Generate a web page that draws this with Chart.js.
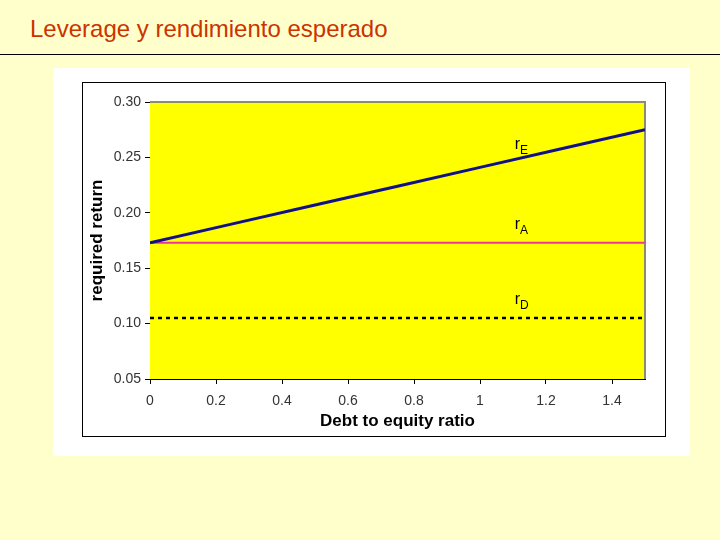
<!DOCTYPE html>
<html>
<head>
<meta charset="utf-8">
<script src="https://cdn.jsdelivr.net/npm/chart.js@4.4.1/dist/chart.umd.min.js"></script>
<style>
  body { margin: 0; width: 720px; height: 540px; background: #FFFFCC; position: relative; overflow: hidden; font-family: "Liberation Sans", Arial, sans-serif; }
  #titulo { position: absolute; left: 30px; top: 15px; font-size: 24px; color: #CC3300; }
  #linea { position: absolute; left: 0; top: 54px; width: 720px; height: 1px; background: #000; }
  #fondo { position: absolute; left: 53px; top: 68px; width: 637px; height: 388px; background: #fff; }
  #marco { position: absolute; left: 82px; top: 82px; width: 582px; height: 353px; border: 1px solid #000; background: #fff; }
  #marco canvas { position: absolute; left: 0; top: 0; }
</style>
</head>
<body>
<div id="titulo">Leverage y rendimiento esperado</div>
<div id="linea"></div>
<div id="fondo"></div>
<div id="marco"><canvas id="grafico" width="582" height="353"></canvas></div>
<script>
// Datos
const deudaCapital = [0, 0.25, 0.5, 0.75, 1.0, 1.25, 1.5];
const rE = [0.173, 0.190, 0.207, 0.224, 0.241, 0.258, 0.275];
const rA = [0.173, 0.173, 0.173, 0.173, 0.173, 0.173, 0.173];
const rD = [0.105, 0.105, 0.105, 0.105, 0.105, 0.105, 0.105];
const etiquetas = [
  { base: "r", sub: "E", x: 1.105, y: 0.258 },
  { base: "r", sub: "A", x: 1.105, y: 0.185 },
  { base: "r", sub: "D", x: 1.105, y: 0.118 }
];

const puntos = (ys) => deudaCapital.map((x, i) => ({ x: x, y: ys[i] }));
const fuente = '"Liberation Sans", Arial, sans-serif';

const fondoAmarillo = {
  id: 'fondoAmarillo',
  beforeDatasetsDraw: (chart) => {
    const { ctx, chartArea: a } = chart;
    ctx.save();
    ctx.fillStyle = '#FFFF00';
    ctx.fillRect(a.left, a.top, a.right - a.left, a.bottom - a.top);
    ctx.strokeStyle = '#8C8C6A';
    ctx.lineWidth = 2;
    ctx.beginPath();
    ctx.moveTo(a.left, a.top);
    ctx.lineTo(a.right, a.top);
    ctx.lineTo(a.right, a.bottom);
    ctx.stroke();
    ctx.restore();
  },
  afterDatasetsDraw: (chart) => {
    const { ctx, scales } = chart;
    ctx.save();
    ctx.fillStyle = '#000';
    etiquetas.forEach((e) => {
      const px = scales.x.getPixelForValue(e.x);
      const py = scales.y.getPixelForValue(e.y);
      ctx.font = '16px ' + fuente;
      ctx.textBaseline = 'alphabetic';
      ctx.fillText(e.base, px, py);
      const w = ctx.measureText(e.base).width;
      ctx.font = '12px ' + fuente;
      ctx.fillText(e.sub, px + w, py + 5);
    });
    ctx.restore();
  }
};

new Chart(document.getElementById('grafico'), {
  type: 'line',
  data: {
    datasets: [
      { label: 'rE', data: puntos(rE), borderColor: '#101088', borderWidth: 3, pointRadius: 0 },
      { label: 'rA', data: puntos(rA), borderColor: '#E8389A', borderWidth: 2, pointRadius: 0 },
      { label: 'rD', data: puntos(rD), borderColor: '#000', borderWidth: 2.5, borderDash: [4, 4], pointRadius: 0 }
    ]
  },
  options: {
    responsive: false,
    animation: false,
    layout: { padding: { top: 19, right: 20, left: 0, bottom: 0 } },
    plugins: { legend: false, tooltip: false },
    scales: {
      x: {
        type: 'linear',
        min: 0,
        max: 1.5,
        afterFit: (s) => { s.height = 57; },
        border: { color: '#000', width: 1 },
        grid: { drawOnChartArea: false, color: '#000', tickLength: 5 },
        ticks: { stepSize: 0.2, includeBounds: false, color: '#333', padding: 9,
                 callback: (v) => String(Math.round(v * 10) / 10),
                 font: { family: fuente, size: 14 } },
        title: { display: true, text: 'Debt to equity ratio', color: '#000', padding: { top: 0 },
                 font: { family: fuente, size: 17, weight: 'bold' } }
      },
      y: {
        min: 0.05,
        max: 0.30,
        afterFit: (s) => { s.width = 67; },
        border: { color: '#000', width: 1 },
        grid: { drawOnChartArea: false, color: '#000', tickLength: 5 },
        ticks: { stepSize: 0.05, color: '#333', padding: 4, callback: (v) => v.toFixed(2),
                 font: { family: fuente, size: 14 } },
        title: { display: true, text: 'required return', color: '#000', padding: { bottom: 0, top: 4 },
                 font: { family: fuente, size: 17, weight: 'bold' } }
      }
    }
  },
  plugins: [fondoAmarillo]
});
</script>
</body>
</html>
